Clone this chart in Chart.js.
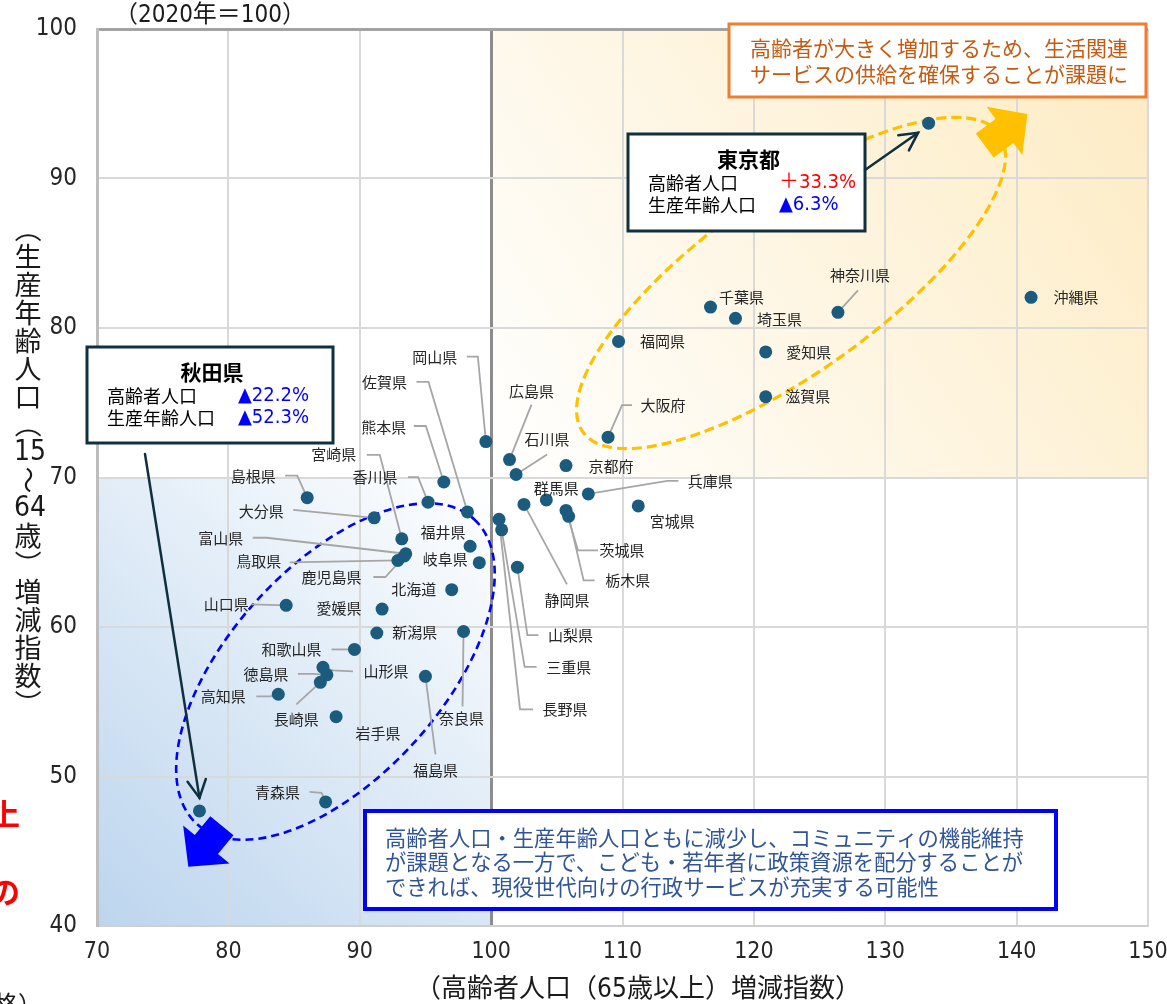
<!DOCTYPE html>
<html lang="ja">
<head>
<meta charset="utf-8">
<title>高齢者人口・生産年齢人口 増減指数</title>
<script src="https://cdn.jsdelivr.net/npm/chart.js@4.4.1/dist/chart.umd.min.js"></script>
<style>
    html, body { margin: 0; padding: 0; background: #ffffff; }
    #contenitore { position: relative; width: 1167px; height: 1004px; }
</style>
</head>
<body>
<div id="contenitore"><canvas id="graficoIndici" width="1167" height="1004"></canvas></div>
<script>
// Indici 2050 (2020 = 100): asse x = anziani (65+), asse y = popolazione 15-64
var prefetture = ['北海道', '青森県', '岩手県', '宮城県', '秋田県', '山形県', '福島県', '茨城県', '栃木県', '群馬県',
    '埼玉県', '千葉県', '東京都', '神奈川県', '新潟県', '富山県', '石川県', '福井県', '山梨県', '長野県',
    '岐阜県', '静岡県', '愛知県', '三重県', '滋賀県', '京都府', '大阪府', '兵庫県', '奈良県', '和歌山県',
    '鳥取県', '島根県', '岡山県', '広島県', '山口県', '徳島県', '香川県', '愛媛県', '高知県', '福岡県',
    '佐賀県', '長崎県', '熊本県', '大分県', '宮崎県', '鹿児島県', '沖縄県'];
var indiceAnziani = [97.0, 87.4, 88.2, 111.2, 77.8, 87.2, 95.0, 105.7, 105.9, 104.2,
    118.6, 116.7, 133.3, 126.4, 91.3, 93.5, 101.9, 98.4, 102.0, 100.6,
    99.1, 102.5, 120.9, 100.8, 120.9, 105.7, 108.9, 107.4, 97.9, 89.6,
    92.9, 86.0, 99.6, 101.4, 84.4, 87.5, 95.2, 91.7, 83.8, 109.7,
    98.2, 87.0, 96.4, 91.1, 93.2, 93.4, 141.1];
var indiceLavoro = [62.5, 48.3, 54.0, 68.1, 47.7, 57.3, 56.7, 67.8, 67.4, 68.5,
    80.65, 81.4, 93.7, 81.05, 59.6, 64.9, 70.2, 65.4, 64.0, 67.2,
    64.3, 68.2, 78.4, 66.5, 75.4, 70.8, 72.7, 68.9, 59.7, 58.5,
    64.45, 68.65, 72.4, 71.2, 61.45, 56.8, 68.35, 61.2, 55.5, 79.1,
    67.7, 56.3, 69.7, 67.3, 65.9, 64.75, 82.05];
var tickX = [70, 80, 90, 100, 110, 120, 130, 140, 150];
var tickY = [40, 50, 60, 70, 80, 90, 100];

// prefetture evidenziate con riquadro
var evidenziate = ['東京都', '秋田県'];

// posizione etichette (spostamento in px dal punto) e linee guida
var posEtichette = {
    '北海道': { dx: -38, dy: 0 },
    '青森県': { dx: -48, dy: -10, linea: [[-16, -10], [-4, -9]] },
    '岩手県': { dx: 42, dy: 17 },
    '宮城県': { dx: 34, dy: 15 },
    '山形県': { dx: 63, dy: 4, linea: [[30, 4], [10, 3]] },
    '福島県': { dx: 10, dy: 94, linea: [[10, 78]] },
    '茨城県': { dx: 56, dy: 40, linea: [[32, 40], [12, 40]] },
    '栃木県': { dx: 59, dy: 64, linea: [[26, 64], [15, 64]] },
    '群馬県': { dx: 10, dy: -12 },
    '埼玉県': { dx: 44, dy: 1 },
    '千葉県': { dx: 31, dy: -10 },
    '神奈川県': { dx: 22, dy: -37, linea: [[20, -22]] },
    '新潟県': { dx: 38, dy: -1 },
    '富山県': { dx: -185, dy: -15, linea: [[-153, -16], [-139, -16]] },
    '石川県': { dx: 31, dy: -35, linea: [[31, -20]] },
    '福井県': { dx: -27, dy: -14 },
    '山梨県': { dx: 53, dy: 68, linea: [[21, 68], [10, 68]] },
    '長野県': { dx: 66, dy: 190, linea: [[34, 190], [21, 190]] },
    '岐阜県': { dx: -34, dy: -3 },
    '静岡県': { dx: 43, dy: 96, linea: [[43, 80]] },
    '愛知県': { dx: 43, dy: 0 },
    '三重県': { dx: 67, dy: 137, linea: [[35, 137], [23, 137]] },
    '滋賀県': { dx: 42, dy: 0 },
    '京都府': { dx: 45, dy: 1 },
    '大阪府': { dx: 55, dy: -32, linea: [[24, -32], [14, -32]] },
    '兵庫県': { dx: 122, dy: -13, linea: [[90, -13], [79, -13]] },
    '奈良県': { dx: -2, dy: 87, linea: [[-1, 75]] },
    '和歌山県': { dx: -63, dy: 0, linea: [[-23, 0]] },
    '鳥取県': { dx: -139, dy: 1, linea: [[-108, 2]] },
    '島根県': { dx: -54, dy: -21, linea: [[-22, -22], [-10, -22]] },
    '岡山県': { dx: -51, dy: -84, linea: [[-19, -85], [-8, -85]] },
    '広島県': { dx: 22, dy: -68, linea: [[22, -55]] },
    '山口県': { dx: -60, dy: -1, linea: [[-35, -1]] },
    '徳島県': { dx: -61, dy: -1, linea: [[-29, -1], [-14, -1]] },
    '香川県': { dx: -53, dy: -25, linea: [[-20, -25], [-10, -25]] },
    '愛媛県': { dx: -43, dy: -1 },
    '高知県': { dx: -55, dy: 2, linea: [[-22, 2], [-8, 2]] },
    '福岡県': { dx: 44, dy: 0 },
    '佐賀県': { dx: -83, dy: -130, linea: [[-51, -130], [-39, -130]] },
    '長崎県': { dx: -24, dy: 37, linea: [[-24, 22]] },
    '熊本県': { dx: -60, dy: -55, linea: [[-30, -56], [-18, -56]] },
    '大分県': { dx: -113, dy: -7, linea: [[-81, -8]] },
    '宮崎県': { dx: -68, dy: -84, linea: [[-35, -84], [-22, -84]] },
    '鹿児島県': { dx: -73, dy: 21, linea: [[-31, 21], [-19, 21]] },
    '沖縄県': { dx: 45, dy: 0 }
};

var FONT_JP = '"Noto Sans CJK JP", "Noto Sans CJK SC", sans-serif';
var FONT_NUM = '"Liberation Sans Narrow", "Arial Narrow", "DejaVu Sans Condensed", "Noto Sans CJK JP", sans-serif';

// variazione percentuale rispetto al 2020 (▲ = calo)
function variazione(v) {
    var d = Math.round((v - 100) * 10) / 10;
    return (d >= 0 ? '＋' : '▲') + Math.abs(d).toFixed(1) + '%';
}

function freccaPiena(ctx, x, y, ang, colore) {
    // freccia "a blocco" con la punta in (x, y)
    var lung = 53, testa = 28.5, largTesta = 60, largAsta = 30;
    ctx.save();
    ctx.translate(x, y);
    ctx.rotate(ang);
    ctx.beginPath();
    ctx.moveTo(0, 0);
    ctx.lineTo(-testa, -largTesta / 2);
    ctx.lineTo(-testa, -largAsta / 2);
    ctx.lineTo(-lung, -largAsta / 2);
    ctx.lineTo(-lung, largAsta / 2);
    ctx.lineTo(-testa, largAsta / 2);
    ctx.lineTo(-testa, largTesta / 2);
    ctx.closePath();
    ctx.fillStyle = colore;
    ctx.fill();
    ctx.restore();
}

function frecciaLinea(ctx, x0, y0, x1, y1, colore) {
    var ang = Math.atan2(y1 - y0, x1 - x0);
    ctx.save();
    ctx.strokeStyle = colore;
    ctx.lineWidth = 2.5;
    ctx.lineCap = 'round';
    ctx.beginPath();
    ctx.moveTo(x0, y0);
    ctx.lineTo(x1, y1);
    ctx.stroke();
    ctx.beginPath();
    ctx.moveTo(x1 - 20 * Math.cos(ang - 0.48), y1 - 20 * Math.sin(ang - 0.48));
    ctx.lineTo(x1, y1);
    ctx.lineTo(x1 - 20 * Math.cos(ang + 0.48), y1 - 20 * Math.sin(ang + 0.48));
    ctx.stroke();
    ctx.restore();
}

function ellisseTratteggiata(ctx, cx, cy, a, b, gradi, colore, spessore, tratto) {
    ctx.save();
    ctx.strokeStyle = colore;
    ctx.lineWidth = spessore;
    ctx.setLineDash(tratto);
    ctx.beginPath();
    ctx.ellipse(cx, cy, a, b, gradi * Math.PI / 180, 0, Math.PI * 2);
    ctx.stroke();
    ctx.restore();
}

function riquadro(ctx, x0, y0, x1, y1, bordo, spessore) {
    ctx.save();
    ctx.fillStyle = '#ffffff';
    ctx.fillRect(x0, y0, x1 - x0, y1 - y0);
    ctx.strokeStyle = bordo;
    ctx.lineWidth = spessore;
    ctx.strokeRect(x0, y0, x1 - x0, y1 - y0);
    ctx.restore();
}

// riquadro con nome e variazioni di una prefettura
function schedaPrefettura(ctx, nome, box, xVal) {
    var i = prefetture.indexOf(nome);
    riquadro(ctx, box[0], box[1], box[2], box[3], '#10303f', 3);
    ctx.save();
    ctx.textBaseline = 'middle';
    ctx.fillStyle = '#000000';
    ctx.textAlign = 'center';
    ctx.font = 'bold 21px ' + FONT_JP;
    ctx.fillText(nome, (box[0] + box[2]) / 2 + 2, box[1] + 25);
    ctx.textAlign = 'left';
    ctx.font = '18px ' + FONT_JP;
    ctx.fillText('高齢者人口', box[0] + 20, box[1] + 49);
    ctx.fillText('生産年齢人口', box[0] + 20, box[1] + 71);
    var righe = [indiceAnziani[i], indiceLavoro[i]];
    ctx.font = '20px ' + FONT_NUM;
    righe.forEach(function (v, k) {
        ctx.fillStyle = v >= 100 ? '#ff0000' : '#0000ff';
        ctx.fillText(variazione(v), xVal, box[1] + 49 + k * 22);
    });
    ctx.restore();
}

var disegniExtra = {
    id: 'disegniExtra',
    beforeDraw: function (chart) {
        var ctx = chart.ctx, a = chart.chartArea;
        var cx = chart.scales.x.getPixelForValue(100);
        var cy = chart.scales.y.getPixelForValue(70);
        ctx.save();
        ctx.fillStyle = '#ffffff';
        ctx.fillRect(0, 0, chart.width, chart.height);
        // quadrante in alto a destra: sfumatura calda
        var g1 = ctx.createLinearGradient(cx, cy, a.right, a.top);
        g1.addColorStop(0, '#ffffff');
        g1.addColorStop(1, '#fdebc2');
        ctx.fillStyle = g1;
        ctx.fillRect(cx, a.top, a.right - cx, cy - a.top);
        // quadrante in basso a sinistra: sfumatura azzurra
        var g2 = ctx.createLinearGradient(cx, cy, a.left, a.bottom);
        g2.addColorStop(0, '#ffffff');
        g2.addColorStop(1, '#bcd5ee');
        ctx.fillStyle = g2;
        ctx.fillRect(a.left, cy, cx - a.left, a.bottom - cy);
        ctx.restore();
    },
    beforeDatasetsDraw: function (chart) {
        var ctx = chart.ctx;
        var sx = chart.scales.x, sy = chart.scales.y;
        // ellissi dei due gruppi
        ellisseTratteggiata(ctx, sx.getPixelForValue(122.83), sy.getPixelForValue(83.01), 256, 89, -35.6, '#ffc000', 3.2, [10, 5]);
        ellisseTratteggiata(ctx, sx.getPixelForValue(88.15), sy.getPixelForValue(57.02), 206, 106, -47.7, '#0000ff', 2.6, [8, 5]);
        // linee guida delle etichette
        var punti = chart.getDatasetMeta(0).data;
        ctx.save();
        ctx.strokeStyle = '#a6a6a6';
        ctx.lineWidth = 1.8;
        prefetture.forEach(function (nome, i) {
            var p = posEtichette[nome];
            if (!p || !p.linea) return;
            var px = punti[i].x, py = punti[i].y;
            ctx.beginPath();
            ctx.moveTo(px + p.linea[0][0], py + p.linea[0][1]);
            for (var k = 1; k < p.linea.length; k++) {
                ctx.lineTo(px + p.linea[k][0], py + p.linea[k][1]);
            }
            ctx.lineTo(px, py);
            ctx.stroke();
        });
        ctx.restore();
    },
    afterDatasetsDraw: function (chart) {
        var ctx = chart.ctx;
        var sx = chart.scales.x, sy = chart.scales.y;
        var punti = chart.getDatasetMeta(0).data;

        // nomi delle prefetture
        ctx.save();
        ctx.font = '15px ' + FONT_JP;
        ctx.fillStyle = '#262626';
        ctx.textAlign = 'center';
        ctx.textBaseline = 'middle';
        prefetture.forEach(function (nome, i) {
            var p = posEtichette[nome];
            if (!p || evidenziate.indexOf(nome) >= 0) return;
            ctx.fillText(nome, punti[i].x + p.dx, punti[i].y + p.dy);
        });
        ctx.restore();

        // frecce grandi di tendenza
        freccaPiena(ctx, sx.getPixelForValue(140.82), sy.getPixelForValue(94.31), -36.4 * Math.PI / 180, '#ffc000');
        freccaPiena(ctx, sx.getPixelForValue(76.95), sy.getPixelForValue(43.97), 129.3 * Math.PI / 180, '#0000ff');

        // riquadro arancione
        riquadro(ctx, 729, 24, 1146, 97, '#ed7d31', 3);
        ctx.save();
        ctx.font = '21px ' + FONT_JP;
        ctx.fillStyle = '#c55a11';
        ctx.textBaseline = 'middle';
        ctx.fillText('高齢者が大きく増加するため、生活関連', 750, 48);
        ctx.fillText('サービスの供給を確保することが課題に', 750, 74);
        ctx.restore();

        // riquadro blu
        riquadro(ctx, 365, 811, 1056, 909, '#0000ff', 4);
        ctx.save();
        ctx.font = '21.3px ' + FONT_JP;
        ctx.fillStyle = '#2f5597';
        ctx.textBaseline = 'middle';
        ctx.fillText('高齢者人口・生産年齢人口ともに減少し、コミュニティの機能維持', 385, 838);
        ctx.fillText('が課題となる一方で、こども・若年者に政策資源を配分することが', 385, 862);
        ctx.fillText('できれば、現役世代向けの行政サービスが充実する可能性', 385, 887);
        ctx.restore();

        // schede di Tokyo e Akita con freccia verso il punto
        var iT = prefetture.indexOf('東京都');
        var iA = prefetture.indexOf('秋田県');
        schedaPrefettura(ctx, '東京都', [628, 134, 865, 231], 779);
        frecciaLinea(ctx, 865, 170, punti[iT].x - 10.5, punti[iT].y + 9.5, '#10303f');
        schedaPrefettura(ctx, '秋田県', [87, 347, 333, 443], 238);
        frecciaLinea(ctx, 145, 454, punti[iA].x, punti[iA].y - 13, '#10303f');
    },
    afterDraw: function (chart) {
        var ctx = chart.ctx;
        ctx.save();
        ctx.fillStyle = '#1a1a1a';
        ctx.textAlign = 'center';
        ctx.textBaseline = 'middle';

        // nota in alto e titolo asse x
        ctx.font = '24px ' + FONT_NUM;
        ctx.fillText('（2020年＝100）', 210, 16);
        ctx.font = '26px ' + FONT_NUM;
        ctx.fillText('（高齢者人口（65歳以上）増減指数）', 638, 990);

        // titolo asse y in verticale
        var titoloY = ['（', '生', '産', '年', '齢', '人', '口', '（', '15', '～', '64', '歳', '）', '増', '減', '指', '数', '）'];
        var ruotati = ['（', '）', '～'];
        titoloY.forEach(function (ch, i) {
            var yc = 229 + i * 27.9;
            if (ruotati.indexOf(ch) >= 0) {
                ctx.save();
                ctx.font = '27px ' + FONT_JP;
                ctx.translate(28, yc);
                ctx.rotate(Math.PI / 2);
                ctx.fillText(ch, 0, 0);
                ctx.restore();
            } else if (/^[0-9]+$/.test(ch)) {
                ctx.font = '28px ' + FONT_NUM;
                ctx.fillText(ch, 30, yc + 1);
            } else {
                ctx.font = '27px ' + FONT_JP;
                ctx.fillText(ch, 28, yc);
            }
        });

        // testo che continua fuori dal bordo sinistro
        ctx.textAlign = 'left';
        ctx.fillStyle = '#ff0000';
        ctx.font = 'bold 30px ' + FONT_JP;
        ctx.fillText('上', -10, 814);
        ctx.fillText('の', -10, 892);
        ctx.fillStyle = '#1a1a1a';
        ctx.font = '24px ' + FONT_JP;
        ctx.fillText('格）', -6, 1004);
        ctx.restore();
    }
};

document.addEventListener('DOMContentLoaded', function () {

    var punti = prefetture.map(function (nome, i) {
        return { x: indiceAnziani[i], y: indiceLavoro[i] };
    });
    console.log('Punti per il grafico:', punti.length);

    var ctx = document.getElementById('graficoIndici').getContext('2d');
    var grafico = new Chart(ctx, {
        type: 'scatter',
        data: {
            datasets: [{
                data: punti,
                pointRadius: 6.5,
                pointHoverRadius: 6.5,
                backgroundColor: '#1b5c7e',
                borderWidth: 0
            }]
        },
        options: {
            responsive: false,
            animation: false,
            events: [],
            layout: { padding: { top: 29, right: 19, left: 0, bottom: 0 } },
            plugins: {
                legend: { display: false },
                tooltip: { enabled: false }
            },
            scales: {
                x: {
                    type: 'linear',
                    min: tickX[0],
                    max: tickX[tickX.length - 1],
                    afterBuildTicks: function (scale) {
                        scale.ticks = tickX.map(function (v) { return { value: v }; });
                    },
                    afterFit: function (scale) {
                        // area del grafico fissata dal solo padding del layout
                        scale.height = 78;
                        scale.paddingLeft = 0;
                        scale.paddingRight = 0;
                    },
                    ticks: {
                        padding: 12,
                        color: '#262626',
                        font: { family: FONT_NUM, size: 23 }
                    },
                    grid: {
                        drawTicks: false,
                        color: function (c) { return c.tick && c.tick.value === 100 ? '#8c8c8c' : '#d9d9d9'; },
                        lineWidth: function (c) { return c.tick && c.tick.value === 100 ? 3 : 2; }
                    },
                    border: { color: '#cfcfcf', width: 2 }
                },
                y: {
                    min: tickY[0],
                    max: tickY[tickY.length - 1],
                    afterBuildTicks: function (scale) {
                        scale.ticks = tickY.map(function (v) { return { value: v }; });
                    },
                    afterFit: function (scale) {
                        scale.width = 97;
                        scale.paddingTop = 0;
                        scale.paddingBottom = 0;
                    },
                    ticks: {
                        padding: 20,
                        color: '#262626',
                        font: { family: FONT_NUM, size: 24 }
                    },
                    grid: {
                        drawTicks: false,
                        color: function (c) { return c.tick && c.tick.value === 100 ? '#a3a3a3' : '#d9d9d9'; },
                        lineWidth: function (c) { return c.tick && c.tick.value === 100 ? 3 : 2; }
                    },
                    border: { color: '#bdbdbd', width: 3 }
                }
            }
        },
        plugins: [disegniExtra]
    });
    console.log('Area del grafico:', grafico.chartArea);
});
</script>
</body>
</html>
